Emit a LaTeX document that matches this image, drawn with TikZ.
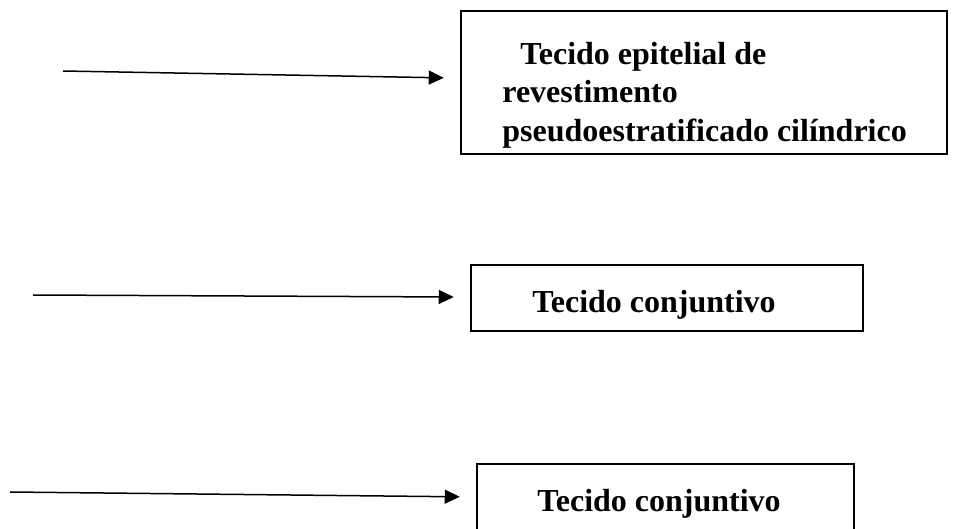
\documentclass[tikz,border=0pt]{standalone}
\usepackage{fontspec}
\setmainfont{Liberation Serif}
\usetikzlibrary{arrows.meta}

\tikzset{
    tissuebox/.style={draw, line width=1.25pt, inner sep=0pt},
    tissuetext/.style={inner sep=0pt, align=left, font=\bfseries\fontsize{16}{19.25}\selectfont},
    pointer/.style={-{Triangle[length=7.5pt,width=7pt]}, line width=0.75pt, shorten >=8pt}
}

\begin{document}
\begin{tikzpicture}[x=0.5pt, y=-0.5pt]
        \useasboundingbox (0,0) rectangle (954,529);

        % Boxes
        \node[tissuebox, minimum width=243pt, minimum height=71.5pt] (epitelial) at (704,82.5) {};
        \node[tissuebox, minimum width=196pt, minimum height=33pt] (conjuntivoA) at (667,298) {};
        \node[tissuebox, minimum width=188.5pt, minimum height=35pt] (conjuntivoB) at (665.5,499) {};

        % Texts in the boxes
        \node[tissuetext, anchor=north west] (epitelialtxt) at (502,41.5)
            {\hspace*{9pt}Tecido epitelial de\\revestimento\\pseudoestratificado cilíndrico};
        \node[tissuetext, anchor=base west] (conjuntivoAtxt) at (532,313) {Tecido conjuntivo};
        \node[tissuetext, anchor=base west] (conjuntivoBtxt) at (537,511) {Tecido conjuntivo};

        % Arrows
        \coordinate (startA) at (63,71);
        \coordinate (startB) at (33,295);
        \coordinate (startC) at (10,492);
        \draw[pointer] (startA) -- (epitelial);
        \draw[pointer] (startB) -- (conjuntivoA);
        \draw[pointer] (startC) -- (conjuntivoB);
    \end{tikzpicture}
\end{document}
